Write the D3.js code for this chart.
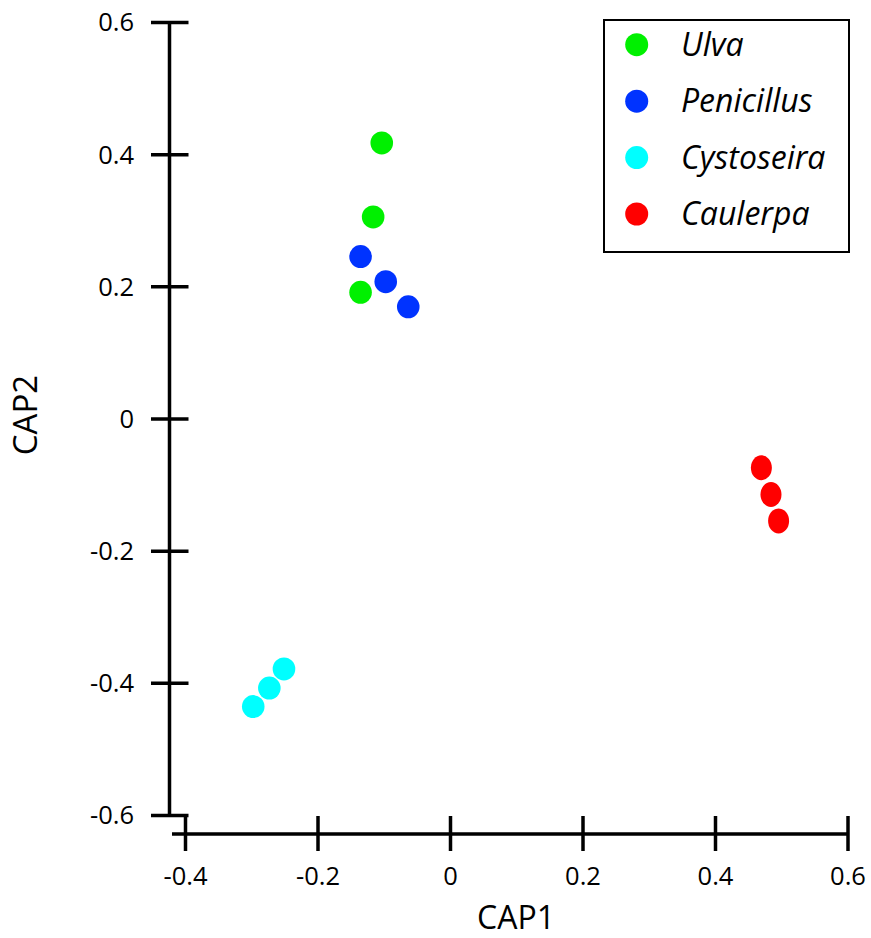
<!DOCTYPE html>
<html>
<head>
<meta charset="utf-8">
<script src="https://cdn.jsdelivr.net/npm/d3@7"></script>
<style>
  html, body { margin: 0; padding: 0; background: #fff; }
  svg { display: block; font-family: "Open Sans", "Noto Sans", sans-serif; }
</style>
</head>
<body>
<svg id="chart" width="871" height="938"></svg>
<script>
// ---- data ----
const species = ["Ulva", "Penicillus", "Cystoseira", "Caulerpa"];
const colors = ["#00f000", "#0033ff", "#00ffff", "#ff0000"];
const ulvaX = [-0.103, -0.116, -0.135];
const ulvaY = [0.417, 0.305, 0.191];
const penicillusX = [-0.135, -0.097, -0.063];
const penicillusY = [0.245, 0.207, 0.169];
const cystoseiraX = [-0.2506, -0.2727, -0.297];
const cystoseiraY = [-0.379, -0.408, -0.436];
const caulerpaX = [0.470, 0.4845, 0.496];
const caulerpaY = [-0.0745, -0.115, -0.155];
const xTicks = [-0.4, -0.2, 0, 0.2, 0.4, 0.6];
const yTicks = [-0.6, -0.4, -0.2, 0, 0.2, 0.4, 0.6];
const xTitle = "CAP1";
const yTitle = "CAP2";

const seriesX = [ulvaX, penicillusX, cystoseiraX, caulerpaX];
const seriesY = [ulvaY, penicillusY, cystoseiraY, caulerpaY];
const points = [];
species.forEach((s, i) => seriesX[i].forEach((x, j) => points.push({ s, i, x, y: seriesY[i][j] })));

// ---- layout ----
const svg = d3.select("#chart");
const x = d3.scaleLinear().domain([-0.4, 0.6]).range([185, 847.5]);
const y = d3.scaleLinear().domain([-0.6, 0.6]).range([815, 22]);
const yAxisX = 169.5;
const xAxisY = 834;

const fmt = d => (d === 0 ? "0" : (d < 0 ? "-" : "") + Math.abs(d).toFixed(1));

// y axis
const gy = svg.append("g").attr("transform", `translate(${yAxisX},0)`)
  .call(d3.axisLeft(y).tickValues(yTicks).tickFormat(fmt).tickSize(0).tickPadding(0));
gy.select(".domain").remove();
gy.append("line").attr("x1", 0).attr("x2", 0).attr("y1", y(0.6)).attr("y2", y(-0.6))
  .attr("stroke", "#000").attr("stroke-width", 3.5);
gy.selectAll(".tick").append("line").attr("x1", -18.5).attr("x2", 19)
  .attr("stroke", "#000").attr("stroke-width", 3.5);
gy.selectAll(".tick text").attr("x", -35.5).attr("dy", "0.35em")
  .attr("font-size", 25.5).attr("fill", "#000").attr("font-family", "'Open Sans', sans-serif");

// x axis
const gx = svg.append("g").attr("transform", `translate(0,${xAxisY})`)
  .call(d3.axisBottom(x).tickValues(xTicks).tickFormat(fmt).tickSize(0).tickPadding(0));
gx.select(".domain").remove();
gx.append("line").attr("x1", 172).attr("x2", x(0.6)).attr("y1", 0).attr("y2", 0)
  .attr("stroke", "#000").attr("stroke-width", 3.5);
gx.selectAll(".tick").append("line").attr("y1", -18).attr("y2", 17)
  .attr("stroke", "#000").attr("stroke-width", 3.5);
gx.selectAll(".tick text").attr("y", 51).attr("dy", 0)
  .attr("font-size", 25.5).attr("fill", "#000").attr("font-family", "'Open Sans', sans-serif");

// titles
svg.append("text").attr("x", 516).attr("y", 929).attr("text-anchor", "middle")
  .attr("font-size", 32).attr("fill", "#000").text(xTitle);
svg.append("text").attr("transform", "translate(37,415) rotate(-90)").attr("text-anchor", "middle")
  .attr("font-size", 33).attr("fill", "#000").text(yTitle);

// points
svg.append("g").selectAll("ellipse").data(points).join("ellipse")
  .attr("cx", d => x(d.x)).attr("cy", d => y(d.y))
  .attr("rx", d => d.i === 3 ? 10.5 : 11.3)
  .attr("ry", d => d.i === 3 ? 12.5 : 11.5)
  .attr("fill", d => colors[d.i]);

// legend
const lg = svg.append("g");
lg.append("rect").attr("x", 604).attr("y", 20).attr("width", 245).attr("height", 232)
  .attr("fill", "#fff").attr("stroke", "#000").attr("stroke-width", 2);
const ly = d3.scalePoint().domain(species).range([44.7, 214]);
const items = lg.selectAll("g.item").data(species).join("g").attr("class", "item")
  .attr("transform", d => `translate(0,${ly(d)})`);
items.append("circle").attr("cx", 636.7).attr("cy", 0).attr("r", 11.5)
  .attr("fill", (d, i) => colors[i]);
items.append("text").attr("x", 681).attr("y", 0).attr("dy", "0.35em")
  .attr("font-size", 32).attr("font-style", "italic").attr("fill", "#000").text(d => d);
</script>
</body>
</html>
